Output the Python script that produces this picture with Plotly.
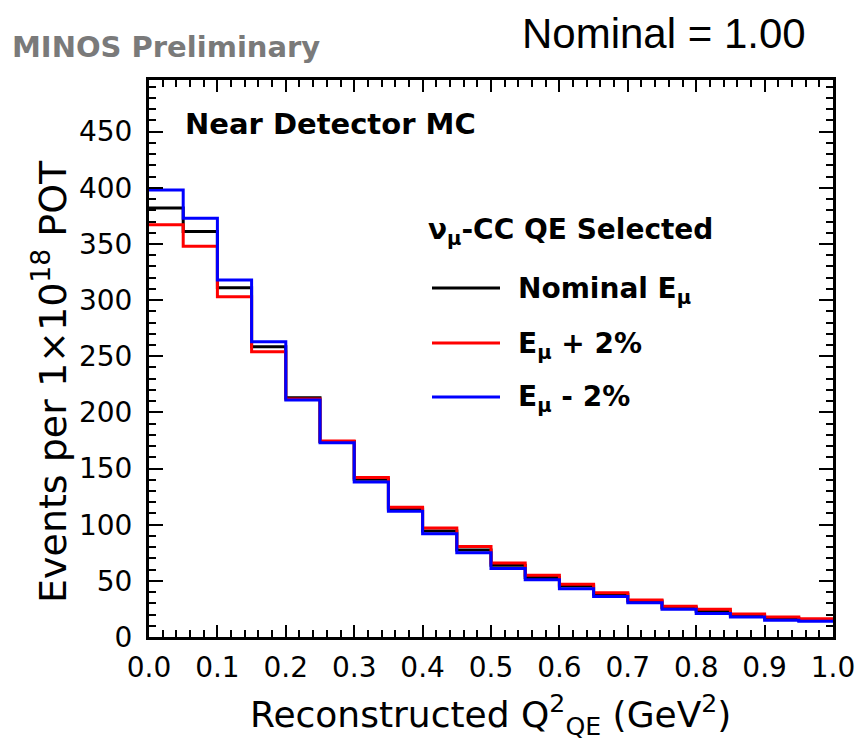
import plotly.graph_objects as go

# ---- data ----
bin_edges = [0.00, 0.05, 0.10, 0.15, 0.20, 0.25, 0.30, 0.35, 0.40, 0.45, 0.50,
             0.55, 0.60, 0.65, 0.70, 0.75, 0.80, 0.85, 0.90, 0.95, 1.00]
nominal = [382, 361, 311, 258.5, 213, 174, 140.5, 114, 94.5, 77.5,
           64, 53, 45.5, 38, 32, 26, 22.9, 19.3, 16.6, 15]
plus2 = [367, 348, 303, 254, 212, 174.5, 142, 115.6, 97, 80.5,
         66, 55, 47, 39.5, 33, 27.3, 24.6, 20.5, 17.8, 16.3]
minus2 = [398, 373, 318, 263, 211, 173, 138, 112, 92, 75,
          61, 51, 43, 36, 30.6, 24.7, 21, 17.8, 15, 14]
series_names = ["Nominal E<sub>μ</sub>", "E<sub>μ</sub> + 2%", "E<sub>μ</sub> - 2%"]
series_colors = ["#000000", "#ff0000", "#0000ff"]
series_values = [nominal, plus2, minus2]

FONT = "DejaVu Sans"

fig = go.Figure()
for name, color, vals in zip(series_names, series_colors, series_values):
    fig.add_trace(go.Scatter(
        x=bin_edges, y=list(vals) + [vals[-1]], mode="lines",
        line=dict(color=color, width=3, shape="hv"), name=name,
        showlegend=False, hoverinfo="skip"))

W, H = 858, 749
L, R, T, B = 149, 25, 80, 112
pw, ph = W - L - R, H - T - B

def px(x):
    return (x - L) / pw

def py(y):
    return (H - B - y) / ph

axis_common = dict(showline=True, linecolor="black", linewidth=3, mirror="allticks",
                   ticks="inside", tickcolor="black", tickwidth=2, showgrid=False,
                   zeroline=False, tickfont=dict(family=FONT, size=28, color="black"))

fig.update_xaxes(range=[0, 1], dtick=0.1, tick0=0, tickformat=".1f", ticklen=12,
                 ticklabelstandoff=3,
                 minor=dict(ticks="inside", dtick=0.02, ticklen=7, tickwidth=2,
                            tickcolor="black", showgrid=False),
                 **axis_common)
fig.update_yaxes(range=[0, 496], dtick=50, tick0=0, ticklen=14,
                 ticklabelstandoff=8,
                 minor=dict(ticks="inside", dtick=10, ticklen=7, tickwidth=2,
                            tickcolor="black", showgrid=False),
                 **axis_common)

annotations = [
    dict(text="<b>MINOS Preliminary</b>", x=px(10), y=py(47), xanchor="left", yanchor="middle",
         font=dict(family=FONT, size=29, color="#7a7a7a")),
    dict(text="Nominal = 1.00", x=px(520), y=py(33), xanchor="left", yanchor="middle",
         font=dict(family="Liberation Sans", size=42, color="black")),
    dict(text="<b>Near Detector MC</b>", x=px(183), y=py(124), xanchor="left", yanchor="middle",
         font=dict(family=FONT, size=29, color="black")),
    dict(text="<b>ν<sub>μ</sub>-CC QE Selected</b>", x=px(426), y=py(232), xanchor="left",
         yanchor="middle", font=dict(family=FONT, size=28, color="black")),
    dict(text="Reconstructed Q<sup>2</sup><sub>QE</sub> (GeV<sup>2</sup>)", x=px(490), y=py(715),
         xanchor="center", yanchor="middle", font=dict(family=FONT, size=36, color="black")),
    dict(text="Events per 1×10<sup>18</sup> POT", x=px(50), y=py(382), xanchor="center",
         yanchor="middle", textangle=-90, font=dict(family=FONT, size=38, color="black")),
]
legend_y = [288, 343, 397]
shapes = []
for name, color, ly in zip(series_names, series_colors, legend_y):
    shapes.append(dict(type="line", xref="paper", yref="paper", x0=px(432), x1=px(500),
                       y0=py(ly), y1=py(ly), line=dict(color=color, width=3)))
    annotations.append(dict(text="<b>" + name + "</b>", x=px(516), y=py(ly + 2), xanchor="left",
                            yanchor="middle", font=dict(family=FONT, size=28, color="black")))

for a in annotations:
    a.update(xref="paper", yref="paper", showarrow=False)

fig.update_layout(width=W, height=H, margin=dict(l=L, r=R, t=T, b=B, autoexpand=False),
                  paper_bgcolor="white", plot_bgcolor="white", showlegend=False,
                  annotations=annotations, shapes=shapes,
                  font=dict(family=FONT, color="black"))

fig.write_html("out.html", config={"displayModeBar": False},
               post_script="document.body.style.margin='0';")
